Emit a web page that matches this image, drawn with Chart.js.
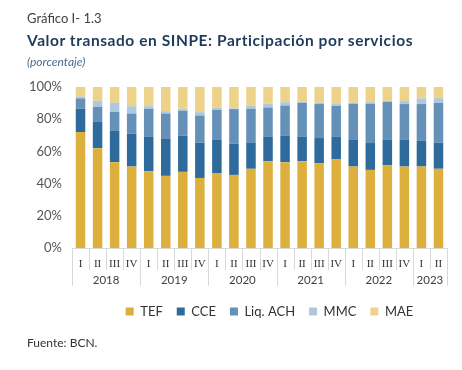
<!DOCTYPE html>
<html>
<head>
<meta charset="utf-8">
<script src="https://cdn.jsdelivr.net/npm/chart.js@4"></script>
<style>
  body { margin: 0; background: #fff; }
  #wrap { position: relative; width: 462px; height: 370px; font-family: "Lato", "Noto Sans", sans-serif; }
  #wrap canvas { position: absolute; left: 0; top: 0; }
  .txt { position: absolute; left: 27px; white-space: nowrap; }
  #num { top: 10px; font-size: 13px; color: #404040; }
  #ttl { top: 31px; font-size: 15.5px; font-weight: bold; color: #1f3b5c; letter-spacing: 0.57px; }
  #sub { top: 54px; font-size: 12px; font-style: italic; color: #4b6b8f; }
  #src { top: 335px; font-size: 12px; color: #333; }
</style>
</head>
<body>
<div id="wrap">
  <canvas id="sinpeChart" width="462" height="370"></canvas>
  <div class="txt" id="num">Gráfico I- 1.3</div>
  <div class="txt" id="ttl">Valor transado en SINPE: Participación por servicios</div>
  <div class="txt" id="sub">(porcentaje)</div>
  <div class="txt" id="src">Fuente: BCN.</div>
</div>
<script>
// quarters and years (multi-level axis)
var quarters = [
  "I", "II", "III", "IV", "I", "II", "III", "IV", "I", "II", "III", "IV",
  "I", "II", "III", "IV", "I", "II", "III", "IV", "I", "II",
];
var years = ["2018", "2019", "2020", "2021", "2022", "2023"];
var quartersPerYear = [4, 4, 4, 4, 4, 2];

// shares in percent
var tef = [72, 62, 53.3, 50.6, 47.7, 44.8, 47.3, 43.5, 46.3, 45.4, 49.2, 53.9,
  53.3, 53.9, 52.7, 55, 50.6, 48.5, 51.3, 50.6, 50.6, 49.2];
var cce = [14.5, 16.3, 19.4, 20.4, 21.3, 22.9, 22.5, 21.9, 20.8, 19.4, 16.4, 15.1,
  16.3, 15.1, 15.6, 14, 16.5, 16.7, 15.8, 16.5, 15.9, 16.2];
var liqAch = [6.4, 9.4, 11.9, 12.5, 17.5, 15.8, 15.4, 16.9, 18.7, 21.5, 20.9, 18.3,
  18.9, 21.2, 21.1, 19.3, 22.5, 24.4, 23.7, 22.3, 22.9, 24.8];
var mmc = [1.1, 3.7, 5.6, 4.6, 1.6, 1.5, 1.3, 2.1, 1.3, 0.4, 1.8, 2.3,
  2.1, 0.6, 0.8, 1.1, 0.6, 1, 0.6, 2, 3.5, 2.9];
var mae = [6, 8.6, 9.8, 11.9, 11.9, 15, 13.5, 15.6, 12.9, 13.3, 11.7, 10.4,
  9.4, 9.2, 9.8, 10.6, 9.8, 9.4, 8.6, 8.6, 7.1, 6.9];

var yTicks = [0, 20, 40, 60, 80, 100];

// separators + year row under the quarter labels
var yearAxis = {
  id: "yearAxis",
  afterLayout: function (chart) {
    // legend sits a bit right of center in the original
    chart.legend.left += 46;
    chart.legend.right += 46;
  },
  afterDraw: function (chart) {
    var c = chart.ctx;
    var x = chart.scales.x;
    var w = (x.right - x.left) / quarters.length;
    var top = chart.chartArea.bottom;
    c.save();
    c.strokeStyle = "#d9d9d9";
    c.lineWidth = 1;
    var starts = [0];
    quartersPerYear.forEach(function (n, i) { starts.push(starts[i] + n); });
    for (var i = 0; i <= quarters.length; i++) {
      var px = Math.round(x.left + i * w) + 0.5;
      var isYear = starts.indexOf(i) >= 0;
      c.beginPath();
      c.moveTo(px, top);
      c.lineTo(px, top + (isYear ? 38 : 22));
      c.stroke();
    }
    c.fillStyle = "#404040";
    c.font = "11.5px Lato, 'Noto Sans', sans-serif";
    c.textAlign = "center";
    c.textBaseline = "middle";
    years.forEach(function (yr, i) {
      var mid = x.left + (starts[i] + quartersPerYear[i] / 2) * w;
      c.fillText(yr, mid, top + 32);
    });
    c.restore();
  },
};

var ctx = document.getElementById("sinpeChart").getContext("2d");
var sinpeChart = new Chart(ctx, {
  type: "bar",
  data: {
    labels: quarters,
    datasets: [
      { label: "TEF", data: tef, backgroundColor: "#ddb03e" },
      { label: "CCE", data: cce, backgroundColor: "#2e6b9c" },
      { label: "Liq. ACH", data: liqAch, backgroundColor: "#6591b9" },
      { label: "MMC", data: mmc, backgroundColor: "#b0c8de" },
      { label: "MAE", data: mae, backgroundColor: "#edd28a" },
    ],
  },
  options: {
    responsive: false,
    animation: false,
    layout: { padding: { top: 87, right: 15, bottom: 42, left: 0 } },
    datasets: {
      bar: { categoryPercentage: 0.9, barPercentage: 0.62 },
    },
    plugins: {
      legend: {
        position: "bottom",
        labels: {
          boxWidth: 8,
          boxHeight: 8,
          padding: 14,
          color: "#333",
          font: { family: "Lato, 'Noto Sans', sans-serif", size: 13 },
        },
      },
      tooltip: { enabled: false },
    },
    scales: {
      x: {
        stacked: true,
        grid: { display: false },
        border: { display: true, color: "#d9d9d9" },
        ticks: {
          padding: 2,
          color: "#333",
          autoSkip: false,
          maxRotation: 0,
          font: { family: "'Liberation Serif', serif", size: 11 },
        },
        afterFit: function (s) { s.height = 43; },
      },
      y: {
        stacked: true,
        min: 0,
        max: 100,
        afterBuildTicks: function (s) {
          s.ticks = yTicks.map(function (v) { return { value: v }; });
        },
        grid: { display: false },
        border: { display: false },
        ticks: {
          padding: 2,
          color: "#555",
          font: { family: "Lato, 'Noto Sans', sans-serif", size: 13 },
          callback: function (v) { return v + "%"; },
        },
        afterFit: function (s) { s.width = 72; },
      },
    },
  },
  plugins: [yearAxis],
});
</script>
</body>
</html>
